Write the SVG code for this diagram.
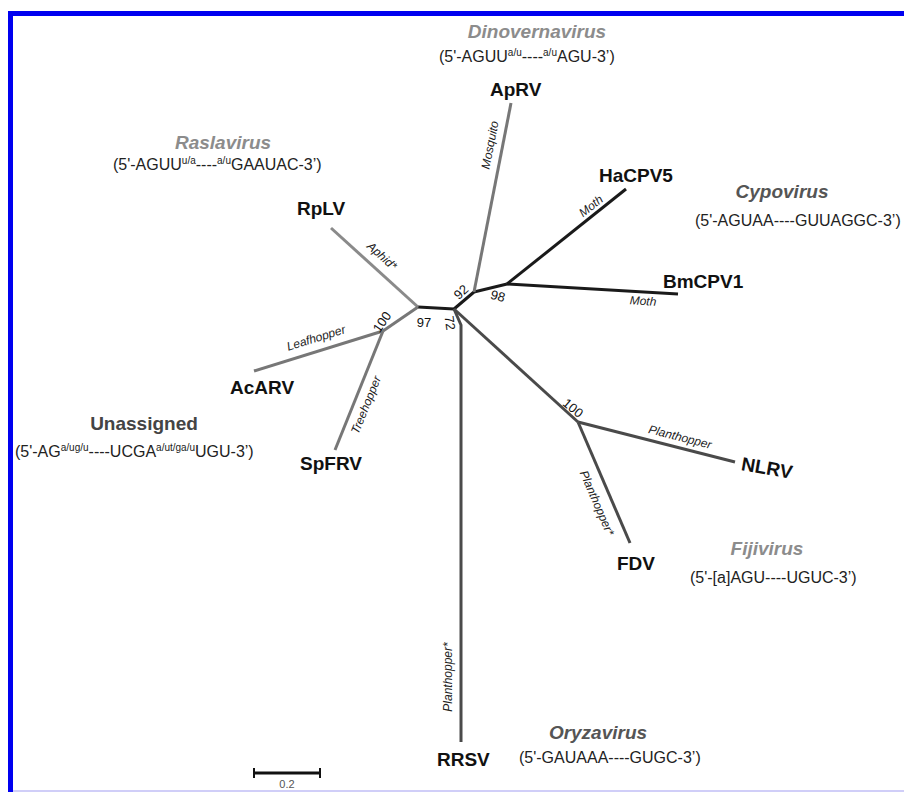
<svg xmlns="http://www.w3.org/2000/svg" width="904" height="792" viewBox="0 0 904 792">
<style>
text{font-family:"Liberation Sans",Arial,sans-serif}
.br{fill:none;stroke-width:3;stroke-linecap:butt;stroke-linejoin:round}
.k{stroke:#1a1a1a}
.g1{stroke:#8a8a8a}
.g2{stroke:#777}
.g3{stroke:#4a4a4a}
.tax{font-size:19px;font-weight:bold;fill:#111}
.gen{font-size:19px;font-weight:bold;font-style:italic}
.lt{fill:#8c8c8c}
.dk{fill:#555}
.seq{font-size:16px;fill:#222}
.sup{font-size:10px}
.host{font-size:12px;font-style:italic;fill:#222;text-anchor:middle;dominant-baseline:central}
.bs{font-size:13px;fill:#111;text-anchor:middle;dominant-baseline:central}
</style>
<rect x="0" y="0" width="904" height="792" fill="#fff"/>
<rect x="8" y="11" width="896" height="5" fill="#0000f0"/>
<rect x="8" y="11" width="5" height="781" fill="#0000f0"/>
<rect x="13" y="790" width="891" height="2" fill="#d0cef8"/>

<g id="connectors">
  <polyline class="br k" points="418,307 454,309 474,292 507,284"/>
  <line class="br g1" x1="418" y1="307" x2="331" y2="228"/>
  <line class="br g2" x1="418" y1="307" x2="383" y2="331"/>
  <line class="br g2" x1="383" y1="331" x2="254" y2="371"/>
  <line class="br g2" x1="383" y1="331" x2="335" y2="450"/>
  <line class="br g2" x1="474" y1="292" x2="511" y2="103"/>
  <line class="br k" x1="507" y1="284" x2="626" y2="189"/>
  <line class="br k" x1="507" y1="284" x2="678" y2="294"/>
  <polyline class="br g3" points="454,309 461,325 461,742"/>
  <line class="br g3" x1="454" y1="309" x2="578" y2="422"/>
  <line class="br g3" x1="578" y1="422" x2="735" y2="462"/>
  <line class="br g3" x1="578" y1="422" x2="630" y2="543"/>
</g>

<g id="support">
  <text class="bs" transform="translate(424,322)">97</text>
  <text class="bs" transform="translate(461,292) rotate(-42)">92</text>
  <text class="bs" transform="translate(498,296) rotate(15)">98</text>
  <text class="bs" transform="translate(450,323) rotate(82)">72</text>
  <text class="bs" transform="translate(382,322) rotate(-55)">100</text>
  <text class="bs" transform="translate(573,408) rotate(40)">100</text>
</g>

<g id="hosts">
  <text class="host" transform="translate(490,145) rotate(-79)">Mosquito</text>
  <text class="host" transform="translate(382,256) rotate(42)">Aphid*</text>
  <text class="host" transform="translate(316,338) rotate(-17)">Leafhopper</text>
  <text class="host" transform="translate(366,405) rotate(-68)">Treehopper</text>
  <text class="host" transform="translate(591,206) rotate(-38.6)">Moth</text>
  <text class="host" transform="translate(643,301) rotate(3.3)">Moth</text>
  <text class="host" transform="translate(680,437) rotate(14.3)">Planthopper</text>
  <text class="host" transform="translate(597,503) rotate(66.7)">Planthopper*</text>
  <text class="host" transform="translate(448,677) rotate(-90)">Planthopper*</text>
</g>

<g id="ApRV"><text class="tax" x="490" y="96">ApRV</text></g>
<g id="HaCPV5"><text class="tax" x="599" y="182">HaCPV5</text></g>
<g id="BmCPV1"><text class="tax" x="663" y="288">BmCPV1</text></g>
<g id="RpLV"><text class="tax" x="297" y="215">RpLV</text></g>
<g id="AcARV"><text class="tax" x="230" y="394">AcARV</text></g>
<g id="SpFRV"><text class="tax" x="300" y="470">SpFRV</text></g>
<g id="NLRV"><text class="tax" text-anchor="middle" dominant-baseline="central" transform="translate(767,468) rotate(10)">NLRV</text></g>
<g id="FDV"><text class="tax" x="617" y="570">FDV</text></g>
<g id="RRSV"><text class="tax" x="437" y="766">RRSV</text></g>

<g id="Dinovernavirus">
  <text class="gen lt" x="537" y="38" text-anchor="middle">Dinovernavirus</text>
  <text class="seq" x="439" y="62">(5'-AGUU<tspan class="sup" dy="-6">a/u</tspan><tspan dy="6">----</tspan><tspan class="sup" dy="-6">a/u</tspan><tspan dy="6">AGU-3’)</tspan></text>
</g>
<g id="Raslavirus">
  <text class="gen lt" x="223" y="149" text-anchor="middle">Raslavirus</text>
  <text class="seq" x="113" y="170">(5'-AGUU<tspan class="sup" dy="-6">u/a</tspan><tspan dy="6">----</tspan><tspan class="sup" dy="-6">a/u</tspan><tspan dy="6">GAAUAC-3’)</tspan></text>
</g>
<g id="Unassigned">
  <text x="144" y="430" text-anchor="middle" style="font-size:19px;font-weight:bold;fill:#444">Unassigned</text>
  <text class="seq" x="15" y="457">(5'-AG<tspan class="sup" dy="-6">a/ug/u</tspan><tspan dy="6">----UCGA</tspan><tspan class="sup" dy="-6">a/ut/ga/u</tspan><tspan dy="6">UGU-3’)</tspan></text>
</g>
<g id="Cypovirus">
  <text class="gen dk" x="782" y="198" text-anchor="middle">Cypovirus</text>
  <text class="seq" x="695" y="226">(5'-AGUAA----GUUAGGC-3’)</text>
</g>
<g id="Fijivirus">
  <text class="gen lt" x="767" y="555" text-anchor="middle">Fijivirus</text>
  <text class="seq" x="690" y="583">(5'-[a]AGU----UGUC-3’)</text>
</g>
<g id="Oryzavirus">
  <text class="gen dk" x="598" y="739" text-anchor="middle">Oryzavirus</text>
  <text class="seq" x="519" y="763">(5'-GAUAAA----GUGC-3’)</text>
</g>

<g id="scale">
  <line x1="253" y1="773" x2="321" y2="773" stroke="#111" stroke-width="3"/>
  <line x1="254" y1="768" x2="254" y2="778" stroke="#111" stroke-width="2"/>
  <line x1="320" y1="768" x2="320" y2="778" stroke="#111" stroke-width="2"/>
  <text x="287" y="788" text-anchor="middle" style="font-size:11px;fill:#555">0.2</text>
</g>
</svg>
